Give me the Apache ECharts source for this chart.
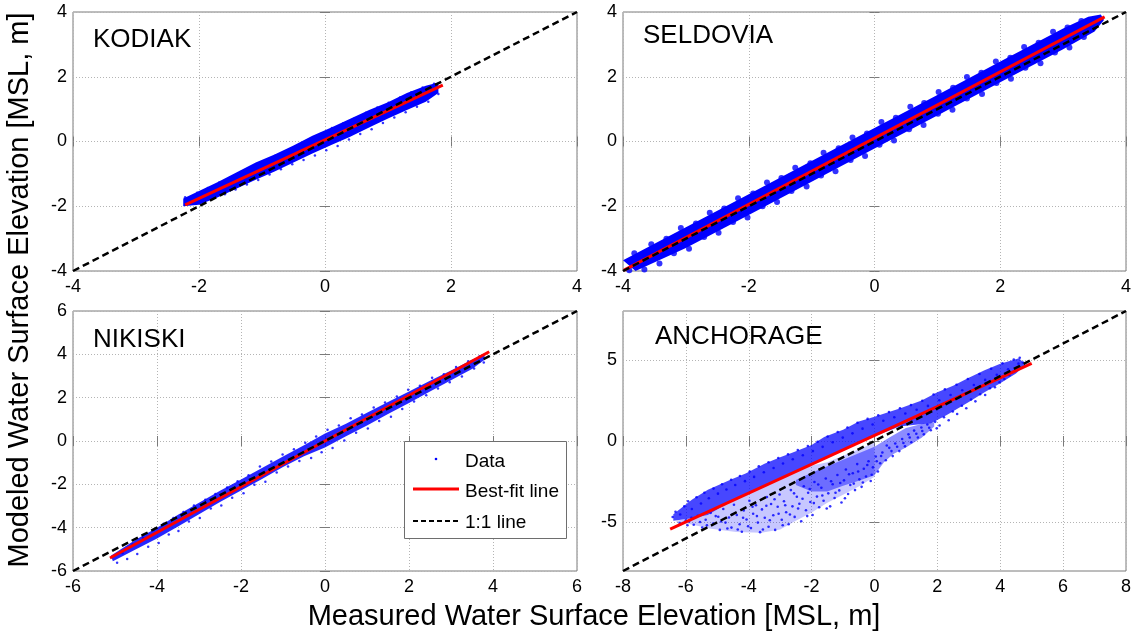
<!DOCTYPE html>
<html><head><meta charset="utf-8">
<script src="https://cdn.jsdelivr.net/npm/echarts@6/dist/echarts.min.js"></script>
<style>html,body{margin:0;padding:0;background:#fff}#c{width:1139px;height:636px}</style>
</head><body><div id="c"></div>
<script>
// ---------- data ----------
const panelNames = ['KODIAK', 'SELDOVIA', 'NIKISKI', 'ANCHORAGE'];
const yTicksAnchorage = [-5, 0, 5];

// dense cores: upper and lower edges of the point cloud [measured, modeled]
const kodiakUpper = [[-2.25,-1.76],[-2.0,-1.53],[-1.7,-1.25],[-1.4,-0.95],[-1.1,-0.65],[-0.8,-0.4],[-0.5,-0.12],[-0.2,0.18],[0.1,0.43],[0.4,0.7],[0.7,0.97],[1.0,1.21],[1.3,1.5],[1.6,1.72],[1.8,1.82]];
const kodiakLower = [[-2.25,-2.0],[-2.0,-1.95],[-1.7,-1.72],[-1.4,-1.45],[-1.1,-1.18],[-0.8,-0.93],[-0.5,-0.65],[-0.2,-0.37],[0.1,-0.11],[0.4,0.15],[0.7,0.43],[1.0,0.71],[1.3,0.97],[1.6,1.23],[1.8,1.5]];
const kodiakPts = [[-2.22,-1.72],[-2.12,-1.92],[-2.03,-1.58],[-1.94,-1.84],[-1.86,-1.44],[-1.77,-1.71],[-1.68,-1.27],[-1.59,-1.63],[-1.51,-1.12],[-1.42,-1.48],[-1.33,-0.94],[-1.24,-1.33],[-1.15,-0.79],[-1.06,-1.19],[-0.97,-0.62],[-0.88,-1.02],[-0.79,-0.44],[-0.7,-0.86],[-0.61,-0.29],[-0.52,-0.7],[-0.43,-0.12],[-0.34,-0.57],[-0.25,0.07],[-0.16,-0.43],[-0.07,0.23],[0.02,-0.27],[0.11,0.42],[0.2,-0.14],[0.29,0.56],[0.38,0.06],[0.47,0.72],[0.56,0.23],[0.65,0.89],[0.74,0.38],[0.83,1.05],[0.92,0.57],[1.01,1.2],[1.1,0.74],[1.19,1.36],[1.28,0.9],[1.37,1.52],[1.46,1.07],[1.55,1.67],[1.64,1.23],[1.73,1.78],[1.8,1.47]];
const kodiakFit = [[-2.22,-1.96],[1.87,1.74]];

const seldoviaUpper = [[-4,-3.67],[-3,-2.65],[-2,-1.63],[-1,-0.6],[0,0.42],[1,1.44],[2,2.47],[3,3.49],[3.4,3.85],[3.6,3.92]];
const seldoviaLower = [[-3.8,-4.0],[-3,-3.29],[-2,-2.27],[-1,-1.24],[0,-0.22],[1,0.8],[2,1.83],[3,2.85],[3.5,3.4],[3.65,3.75]];
const seldoviaPts = [[-3.82,-3.45],[-3.55,-3.17],[-3.31,-3.0],[-3.08,-2.67],[-2.84,-2.53],[-2.62,-2.2],[-2.39,-2.07],[-2.17,-1.75],[-1.93,-1.61],[-1.71,-1.27],[-1.48,-1.13],[-1.26,-0.81],[-1.02,-0.67],[-0.81,-0.35],[-0.57,-0.21],[-0.35,0.12],[-0.12,0.25],[0.11,0.6],[0.34,0.73],[0.57,1.07],[0.79,1.19],[1.02,1.53],[1.25,1.66],[1.47,1.99],[1.7,2.12],[1.93,2.47],[2.16,2.59],[2.38,2.92],[2.61,3.05],[2.84,3.39],[3.07,3.52],[3.29,3.72],
  [-3.9,-3.98],[-3.66,-3.95],[-3.42,-3.77],[-3.19,-3.45],[-2.95,-3.31],[-2.71,-2.95],[-2.48,-2.82],[-2.25,-2.49],[-2.02,-2.35],[-1.78,-2.0],[-1.55,-1.87],[-1.32,-1.53],[-1.08,-1.39],[-0.85,-1.05],[-0.62,-0.92],[-0.38,-0.57],[-0.15,-0.45],[0.08,-0.1],[0.31,0.03],[0.55,0.38],[0.78,0.51],[1.01,0.86],[1.24,0.98],[1.47,1.33],[1.71,1.47],[1.94,1.81],[2.17,1.94],[2.4,2.28],[2.64,2.42],[2.87,2.75],[3.1,2.9],[3.33,3.23]];
const seldoviaFit = [[-3.99,-3.98],[3.66,3.85]];

const nikiskiUpper = [[-5.1,-5.3],[-4.5,-4.55],[-4,-4.0],[-3.5,-3.4],[-3,-2.85],[-2.5,-2.3],[-2,-1.78],[-1.5,-1.25],[-1,-0.72],[-0.5,-0.2],[0,0.35],[0.5,0.8],[1,1.3],[1.5,1.8],[2,2.28],[2.5,2.78],[3,3.25],[3.5,3.75],[3.8,4.0]];
const nikiskiLower = [[-5.05,-5.55],[-4.5,-5.0],[-4,-4.5],[-3.5,-3.95],[-3,-3.38],[-2.5,-2.82],[-2,-2.28],[-1.5,-1.75],[-1,-1.2],[-0.5,-0.7],[0,-0.3],[0.5,0.22],[1,0.72],[1.5,1.25],[2,1.75],[2.5,2.28],[3,2.8],[3.5,3.32],[3.8,3.75]];
const nikiskiPts = [[-4.95,-5.62],[-4.82,-5.18],[-4.71,-5.45],[-4.58,-4.78],[-4.47,-5.21],[-4.33,-4.48],[-4.21,-4.88],[-4.08,-4.12],[-3.96,-4.71],[-3.84,-3.82],[-3.72,-4.32],[-3.61,-3.55],[-3.49,-4.15],[-3.37,-3.28],[-3.24,-3.72],[-3.12,-2.98],[-2.98,-3.55],[-2.85,-2.71],[-2.72,-3.12],[-2.61,-2.45],[-2.47,-2.98],[-2.33,-2.15],[-2.21,-2.62],[-2.08,-1.86],[-1.94,-2.41],[-1.82,-1.58],[-1.68,-2.02],[-1.55,-1.18],[-1.42,-1.88],[-1.28,-0.95],[-1.15,-1.45],[-1.01,-0.62],[-0.88,-1.18],[-0.74,-0.38],[-0.61,-0.92],[-0.47,-0.08],[-0.33,-0.78],[-0.21,0.21],[-0.08,-0.52],[0.06,0.52],[0.18,-0.32],[0.33,0.72],[0.46,0.02],[0.61,1.05],[0.74,0.38],[0.88,1.22],[1.02,0.58],[1.16,1.55],[1.29,0.92],[1.43,1.78],[1.57,1.12],[1.71,2.05],[1.84,1.48],[1.98,2.36],[2.12,1.82],[2.26,2.55],[2.41,2.11],[2.55,2.92],[2.69,2.42],[2.83,3.08],[2.97,2.71],[3.12,3.42],[3.26,2.98],[3.41,3.68],[3.55,3.35],[3.68,3.91],[3.78,3.62]];
const nikiskiFit = [[-5.12,-5.4],[3.91,4.12]];

const anchorageUpper = [[-6.4,-4.5],[-5.8,-3.6],[-5.3,-3.0],[-4.6,-2.4],[-4.1,-2.0],[-3.5,-1.4],[-3,-1.0],[-2.6,-0.7],[-2,-0.25],[-1.6,0.25],[-1,0.7],[-0.5,1.2],[0,1.5],[0.8,2.0],[1.5,2.5],[2,3.0],[2.5,3.4],[3,3.9],[3.5,4.35],[4,4.75],[4.6,5.1]];
const anchorageLower = [[-6.4,-4.9],[-5.8,-4.75],[-5.3,-4.55],[-4.6,-3.75],[-4.1,-3.3],[-3.5,-2.75],[-3,-2.3],[-2.6,-1.95],[-2,-1.4],[-1.6,-1.05],[-1,-0.5],[-0.5,-0.15],[0,0.3],[0.8,0.9],[1.3,1.0],[1.8,1.1],[2.3,1.6],[3,2.4],[3.5,3.0],[4,3.55],[4.5,4.15],[4.8,4.7]];
const anchorageArmUpper = [[-2.5,-2.4],[-2,-1.95],[-1.5,-1.55],[-1,-1.15],[-0.5,-0.75],[0,-0.35],[0.5,0.25],[1,0.8],[1.5,1.05],[1.9,1.15]];
const anchorageArmLower = [[-2.5,-2.7],[-2,-3.1],[-1.5,-3.1],[-1,-2.75],[-0.5,-2.45],[0,-2.1],[0.3,-1.3],[0.6,-0.8],[1,-0.4],[1.5,0.2],[1.9,0.9]];
const anchorageSparseUpper = [[-6.3,-4.9],[-5.8,-4.75],[-5.3,-4.55],[-4.6,-3.75],[-4.1,-3.3],[-3.5,-2.75],[-3,-2.3],[-2.6,-1.95],[-2,-1.5],[-1.5,-1.3],[-1,-0.9],[-0.5,-0.5],[0,-0.1]];
const anchorageSparseLower = [[-6.3,-5.0],[-5.9,-5.1],[-5.2,-5.4],[-4.4,-5.6],[-3.6,-5.65],[-3.0,-5.45],[-2.5,-4.9],[-2,-4.4],[-1.5,-3.8],[-1,-3.3],[-0.5,-2.8],[0,-2.2]];
const anchoragePts = [[-5.9,-4.95],[-5.75,-5.15],[-5.62,-4.6],[-5.48,-5.32],[-5.37,-4.85],[-5.21,-4.42],[-5.13,-5.08],[-4.97,-4.66],[-4.92,-5.47],[-4.81,-4.18],[-4.74,-5.02],[-4.63,-4.71],[-4.55,-5.33],[-4.47,-3.92],[-4.38,-4.55],[-4.29,-5.12],[-4.22,-5.58],[-4.16,-4.27],[-4.07,-4.83],[-3.98,-3.68],[-3.93,-5.36],[-3.86,-4.48],[-3.77,-3.95],[-3.71,-5.02],[-3.64,-5.61],[-3.58,-4.21],[-3.49,-4.72],[-3.42,-3.45],[-3.37,-5.28],[-3.29,-3.88],[-3.22,-4.57],[-3.16,-5.47],[-3.08,-4.05],[-3.02,-3.29],[-2.95,-4.85],[-2.88,-3.71],[-2.81,-4.38],[-2.73,-5.12],[-2.66,-3.02],[-2.61,-4.02],[-2.54,-4.67],[-2.47,-3.43],[-2.39,-3.86],[-2.33,-4.94],[-2.25,-2.78],[-2.18,-4.26],[-2.11,-3.18],[-2.04,-3.75],[-1.97,-4.55],[-1.91,-2.52],[-1.83,-3.42],[-1.76,-4.08],[-1.69,-2.88],[-1.62,-3.68],[-1.55,-2.31],[-1.47,-3.22],[-1.41,-4.02],[-1.33,-2.66],[-1.27,-3.51],[-1.18,-2.09],[-1.12,-3.04],[-1.05,-3.78],[-0.97,-2.42],[-0.91,-1.75],[-0.84,-3.26],[-0.77,-2.71],[-0.69,-1.98],[-0.62,-3.02],[-0.55,-1.42],[-0.48,-2.36],[-0.41,-2.82],[-0.34,-1.71],[-0.27,-2.18],[-0.19,-1.25],[-0.12,-2.46],[-0.05,-1.62],[0.04,-0.95],[0.11,-1.88],[0.18,-1.37],
  [-5.82,-4.72],[-5.55,-4.98],[-5.33,-5.18],[-5.05,-4.62],[-4.88,-4.95],[-4.68,-5.38],[-4.52,-4.52],[-4.35,-5.45],[-4.18,-4.72],[-4.02,-5.25],[-3.88,-4.05],[-3.74,-4.62],[-3.55,-5.45],[-3.44,-3.98],[-3.33,-4.88],[-3.18,-3.58],[-3.05,-4.48],[-2.92,-5.18],[-2.84,-3.95],[-2.69,-4.52],[-2.56,-3.22],[-2.43,-4.15],[-2.29,-3.55],[-2.14,-4.62],[-2.06,-2.95],[-1.93,-3.82],[-1.79,-2.68],[-1.66,-3.35],[-1.52,-4.15],[-1.38,-2.48],[-1.24,-3.18],[-1.09,-2.58],[-0.94,-3.52],[-0.81,-2.05],[-0.66,-2.62],[-0.52,-1.88],[-0.37,-2.55],[-0.23,-1.48],[-0.09,-2.08],[0.07,-1.25],[0.21,-0.92],[0.39,-0.28],[0.54,-0.62],[0.72,-0.35],[0.92,-0.12],[1.12,0.22],[1.33,0.45],[1.52,0.62],[1.74,0.82],[1.98,0.78],[-6.2,-5.05],[-6.0,-4.88],[-5.95,-5.18],
  [0.25,-0.71],[0.36,-1.18],[0.47,-0.42],[0.58,-0.93],[0.66,-0.15],[0.79,-0.62],[0.88,0.12],[0.97,-0.33],[1.08,0.41],[1.17,-0.08],[1.26,0.64],[1.38,0.22],[1.49,0.83],[1.57,0.41],[1.68,1.02],[1.79,0.66],[1.93,1.18],[2.07,0.95],[2.21,1.46],[2.36,1.28],[2.49,1.82],[2.63,1.66],[2.78,2.17],[2.92,2.02],[3.07,2.55],[3.21,2.44],[3.36,2.88],[3.52,2.83],[3.67,3.25],[3.83,3.31],[3.98,3.62],[4.13,3.82],[4.29,4.05],[4.44,4.31],[4.58,4.52],[4.72,4.83],
  [-6.42,-4.68],[-6.33,-4.35],[-6.18,-4.52],[-6.05,-4.02],[-5.93,-3.71],[-5.81,-4.18],[-5.66,-3.46],[-5.52,-3.85],[-5.41,-3.18],[-5.27,-3.52],[-5.12,-2.93],[-4.98,-3.24],[-4.85,-2.66],[-4.71,-2.98],[-4.56,-2.38],[-4.43,-2.71],[-4.28,-2.15],[-4.12,-2.47],[-3.97,-1.88],[-3.83,-2.21],[-3.68,-1.56],[-3.52,-1.92],[-3.37,-1.31],[-3.21,-1.66],[-3.06,-1.05],[-2.91,-1.38],[-2.75,-0.82],[-2.6,-1.12],[-2.44,-0.55],[-2.28,-0.88],[-2.12,-0.31],[-1.96,-0.62],[-1.81,-0.05],[-1.65,-0.36],[-1.49,0.28],[-1.33,-0.08],[-1.17,0.55],[-1.01,0.21],[-0.86,0.83],[-0.7,0.47],[-0.54,1.12],[-0.38,0.76],[-0.22,1.36],[-0.06,1.02],[0.12,1.58],[0.28,1.25],[0.46,1.78],[0.63,1.46],[0.81,2.02],[0.98,1.69],[1.16,2.21],[1.34,1.92],[1.52,2.48],[1.7,2.16],[1.88,2.86],[2.06,2.51],[2.24,3.18],[2.42,2.83],[2.61,3.46],[2.79,3.12],[2.97,3.82],[3.16,3.45],[3.34,4.12],[3.52,3.76],[3.71,4.45],[3.89,4.08],[4.07,4.78],[4.25,4.42],[4.43,5.02],[4.58,4.76],[4.62,5.12]];
const anchorageFit = [[-6.5,-5.43],[5.0,4.77]];

const oneToOne = [[[-4,-4],[4,4]], [[-4,-4],[4,4]], [[-6,-6],[6,6]], [[-8,-8],[8,8]]];
const axisRanges = [[-4,4,2,2],[-4,4,2,2],[-6,6,2,2],[-8,8,2,5]];

// ---------- layout / style ----------
const grids = [
  {left:73, top:12, width:504, height:259},
  {left:623, top:12, width:503, height:259},
  {left:73, top:311, width:504, height:260},
  {left:623, top:311, width:503, height:260}
];
const FONT = 'Liberation Sans, Arial, sans-serif';
const frameColor = '#7a7a7a';
const panels = [
  {polys:[[kodiakUpper, kodiakLower, 1]], pts:kodiakPts, fit:kodiakFit, size:2.5},
  {polys:[[seldoviaUpper, seldoviaLower, 1]], pts:seldoviaPts, fit:seldoviaFit, size:6},
  {polys:[[nikiskiUpper, nikiskiLower, 0.85]], pts:nikiskiPts, fit:nikiskiFit, size:2.5},
  {polys:[[anchorageUpper, anchorageLower, 0.72], [anchorageArmUpper, anchorageArmLower, 0.45],
          [anchorageSparseUpper, anchorageSparseLower, 0.22]], pts:anchoragePts, fit:anchorageFit, size:2.6}
];

const xAxes = [], yAxes = [], series = [];
grids.forEach((g, i) => {
  const [mn, mx, xi, yi] = axisRanges[i];
  const tickCommon = {show:true, inside:true, length:5, lineStyle:{color:frameColor}};
  const yCustom = (i === 3) ? yTicksAnchorage : null;
  xAxes.push({gridIndex:i, type:'value', min:mn, max:mx, interval:xi, position:'bottom',
    axisLine:{show:false}, axisTick:tickCommon,
    axisLabel:{fontFamily:FONT, fontSize:18, color:'#000', margin:7},
    splitLine:{show:true, lineStyle:{type:[1,2], color:'#b4b4b4', width:1}}});
  xAxes.push({gridIndex:i, type:'value', min:mn, max:mx, interval:xi, position:'top',
    axisLine:{show:false}, axisTick:tickCommon, axisLabel:{show:false}, splitLine:{show:false}});
  const yl = {gridIndex:i, type:'value', min:mn, max:mx, position:'left',
    axisLine:{show:false},
    axisTick:Object.assign({}, tickCommon, yCustom ? {customValues:yCustom} : {}),
    axisLabel:Object.assign({fontFamily:FONT, fontSize:18, color:'#000', margin:6}, yCustom ? {customValues:yCustom} : {}),
    splitLine:{show:true, lineStyle:{type:[1,2], color:'#b4b4b4', width:1}}};
  const yr = {gridIndex:i, type:'value', min:mn, max:mx, position:'right',
    axisLine:{show:false},
    axisTick:Object.assign({}, tickCommon, yCustom ? {customValues:yCustom} : {}),
    axisLabel:{show:false}, splitLine:{show:false}};
  if (!yCustom) { yl.interval = yi; yr.interval = yi; }
  yAxes.push(yl, yr);

  const p = panels[i];
  p.polys.forEach(([up, lo, op]) => {
    const poly = up.concat(lo.slice().reverse());
    series.push({type:'custom', xAxisIndex:2*i, yAxisIndex:2*i, silent:true, clip:true, z:1,
      data:[[0,0]],
      renderItem:(params, api) => ({type:'polygon',
        shape:{points: poly.map(q => api.coord(q))},
        style:{fill:'#0000ff', opacity:op}})});
  });
  series.push({type:'scatter', xAxisIndex:2*i, yAxisIndex:2*i, data:p.pts, symbol:'circle',
    symbolSize:p.size, itemStyle:{color:'#0000ff'}, silent:true, z:2});
  series.push({type:'line', xAxisIndex:2*i, yAxisIndex:2*i, data:p.fit, symbol:'none', silent:true, z:3,
    lineStyle:{color:'#ff0000', width:3}});
  series.push({type:'line', xAxisIndex:2*i, yAxisIndex:2*i, data:oneToOne[i], symbol:'none', silent:true, z:4,
    lineStyle:{color:'#000', width:2.5, type:[7,4]}});
});

const labelPos = [[93,40],[643,36],[93,340],[655,337]];
const graphic = panelNames.map((n, i) => ({type:'text', x:labelPos[i][0], y:labelPos[i][1], z:10,
  style:{text:n, font:'26px ' + FONT, fill:'#000', verticalAlign:'middle'}}));
graphic.push({type:'text', x:20, y:290, rotation:Math.PI/2, z:10,
  style:{text:'Modeled Water Surface Elevation [MSL, m]', font:'29px ' + FONT, fill:'#000', align:'center', verticalAlign:'middle'}});
graphic.push({type:'text', x:594, y:617, z:10,
  style:{text:'Measured Water Surface Elevation [MSL, m]', font:'29px ' + FONT, fill:'#000', align:'center', verticalAlign:'middle'}});
// legend box
graphic.push({type:'rect', shape:{x:404.5, y:441.5, width:162, height:97}, z:20,
  style:{fill:'#fff', stroke:'#6e6e6e', lineWidth:1}});
graphic.push({type:'circle', shape:{cx:436, cy:459, r:1.3}, z:21, style:{fill:'#0000ff'}});
graphic.push({type:'line', shape:{x1:413, y1:489, x2:459, y2:489}, z:21, style:{stroke:'#ff0000', lineWidth:3}});
graphic.push({type:'line', shape:{x1:413, y1:521, x2:459, y2:521}, z:21, style:{stroke:'#000', lineWidth:2, lineDash:[5,3]}});
[['Data',462],['Best-fit line',492],['1:1 line',523]].forEach(([t, y]) => {
  graphic.push({type:'text', x:465, y:y, z:21, style:{text:t, font:'19px ' + FONT, fill:'#000', verticalAlign:'middle'}});
});

const chart = echarts.init(document.getElementById('c'), null, {renderer:'canvas'});
chart.setOption({
  animation:false,
  backgroundColor:'#fff',
  grid: grids.map(g => Object.assign({show:true, borderColor:frameColor, borderWidth:1, backgroundColor:'transparent'}, g)),
  xAxis:xAxes, yAxis:yAxes, series:series, graphic:graphic
});
</script></body></html>
